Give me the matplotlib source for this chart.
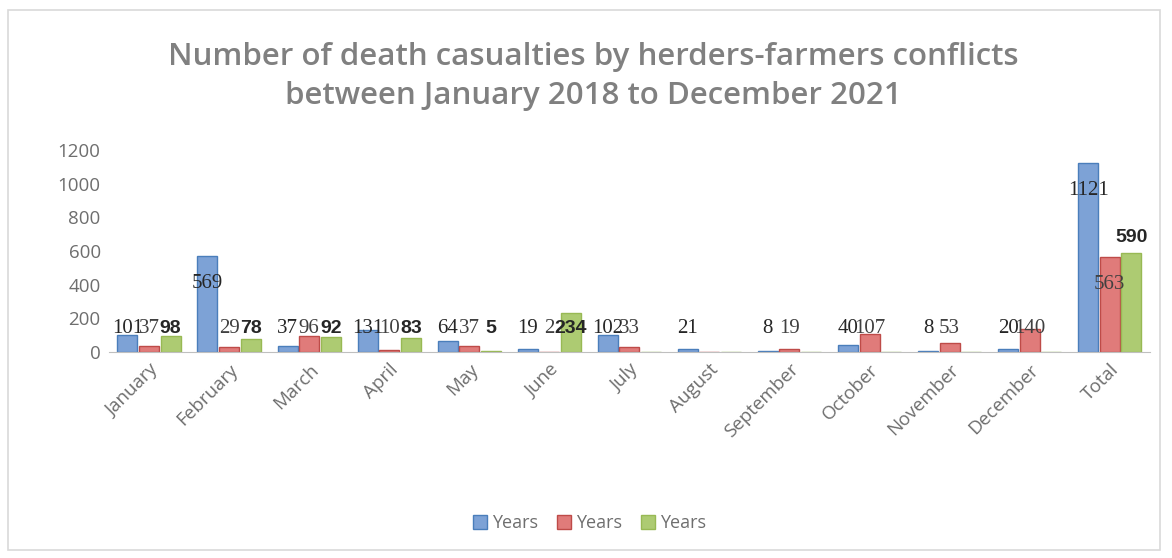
import numpy as np
import matplotlib.pyplot as plt
from matplotlib.patches import Rectangle

categories = ["January", "February", "March", "April", "May", "June", "July",
              "August", "September", "October", "November", "December", "Total"]
series_a = [101, 569, 37, 131, 64, 19, 102, 21, 8, 40, 8, 20, 1121]
series_b = [37, 29, 96, 10, 37, 2, 33, 0, 19, 107, 53, 140, 563]
series_c = [98, 78, 92, 83, 5, 234, 0, 0, 0, 0, 0, 0, 590]
series_names = ["Years", "Years", "Years"]
y_ticks = [0, 200, 400, 600, 800, 1000, 1200]

faces = ["#7DA2D6", "#E07B7A", "#ADCB72"]
edges = ["#4A7EBB", "#BE4B48", "#98B954"]
gray = "#808080"

fig = plt.figure(figsize=(11.72, 5.58), dpi=100)
fig.patches.append(Rectangle((8 / 1172, 8 / 558), 1152 / 1172, 540 / 558,
                             transform=fig.transFigure, fill=False,
                             edgecolor="#D9D9D9", linewidth=1.2))
ax = fig.add_axes([0.093, 0.369, 0.888, 0.362])

x = np.arange(len(categories))
width = 0.25
offsets = [-0.27, 0.0, 0.27]

for i, vals in enumerate([series_a, series_b, series_c]):
    ax.bar(x + offsets[i], vals, width, color=faces[i], edgecolor=edges[i],
           linewidth=1.0, label=series_names[i])
    for xi, v in zip(x, vals):
        if v == 0:
            continue
        # label placement roughly like the source chart
        if i < 2 and v > 300:
            ly = v - 160
        elif v > 300:
            ly = v + 90
        else:
            ly = 140
        if i == 2:
            ax.text(xi + offsets[i], ly, str(v), ha="center", va="center",
                    fontsize=14, fontweight="bold", color="#262626",
                    family="Liberation Sans")
        else:
            ax.text(xi + offsets[i], ly, str(v), ha="center", va="center",
                    fontsize=15, color="#262626" if i == 0 else "#404040",
                    family="Liberation Serif")

ax.set_xlim(-0.5, len(categories) - 0.5)
ax.set_ylim(0, 1200)
ax.set_yticks(y_ticks)
ax.set_yticklabels([str(t) for t in y_ticks], fontsize=13.5, color="#6E6E6E",
                   family="Open Sans")
ax.set_xticks(x)
ax.set_xticklabels(categories, rotation=45, ha="right", rotation_mode="anchor",
                   fontsize=13.5, color="#6E6E6E", family="Open Sans")
ax.tick_params(axis="both", length=0, pad=6)
for side in ["top", "right", "left"]:
    ax.spines[side].set_visible(False)
ax.spines["bottom"].set_color("#BFBFBF")

fig.text(0.506, 0.863, "Number of death casualties by herders-farmers conflicts\n"
         "between January 2018 to December 2021", ha="center", va="center",
         fontsize=22.5, fontweight="semibold", color=gray, family="Open Sans",
         linespacing=1.4)

leg = fig.legend(loc="center", bbox_to_anchor=(0.503, 0.062), ncol=3,
                 frameon=False, prop={"family": "Open Sans", "size": 13},
                 handlelength=0.8, handleheight=0.8, columnspacing=1.0,
                 handletextpad=0.3)
for t in leg.get_texts():
    t.set_color("#6E6E6E")

fig.savefig("out.png", dpi=100)
